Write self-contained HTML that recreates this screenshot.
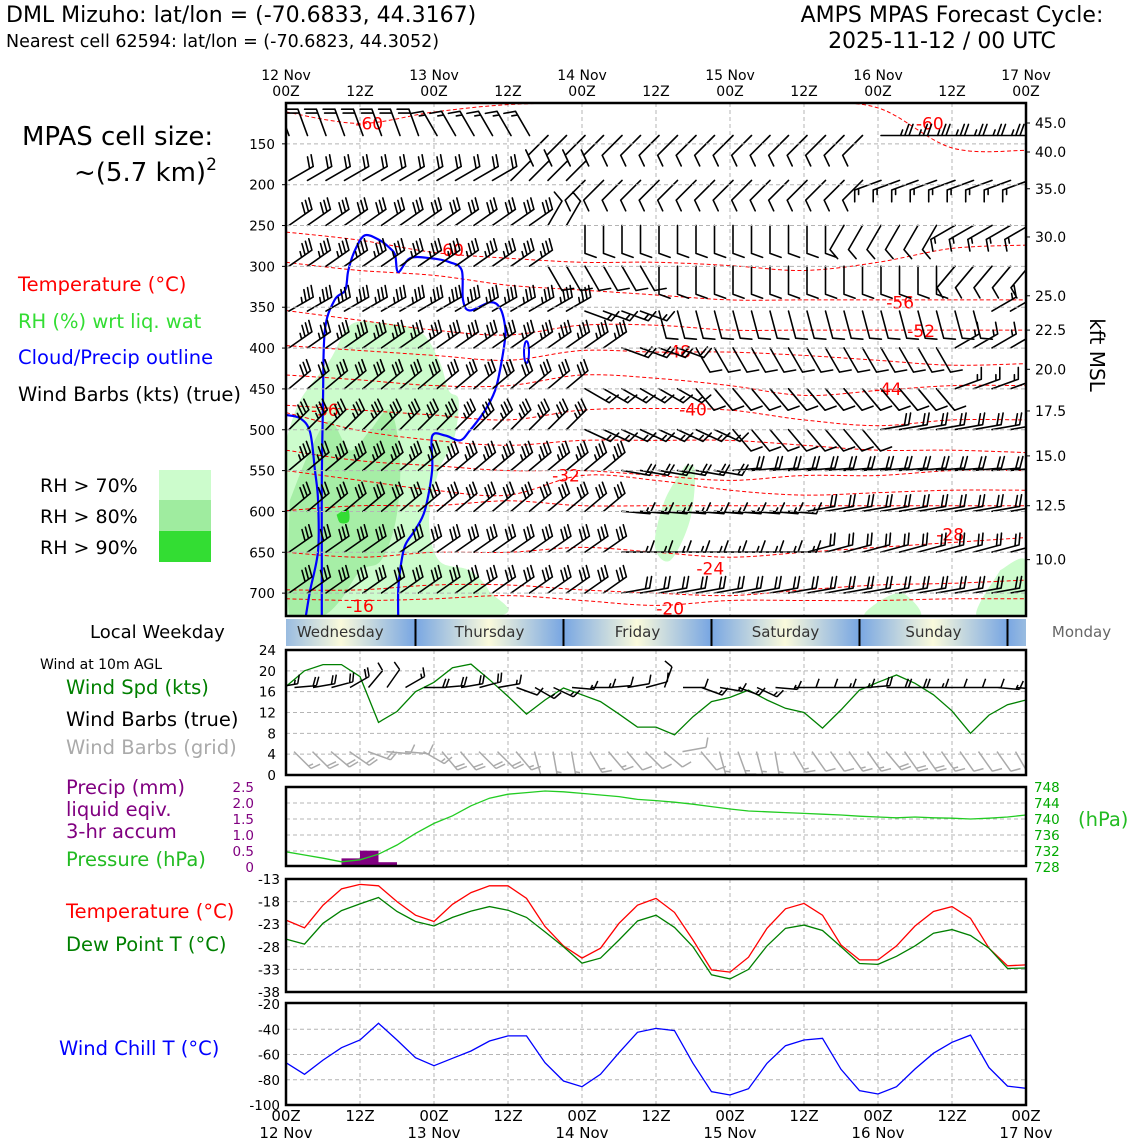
<!DOCTYPE html>
<html><head><meta charset="utf-8"><style>
html,body{margin:0;padding:0;background:#fff;}
svg{display:block;font-family:"DejaVu Sans","Liberation Sans",sans-serif;}
</style></head><body>
<svg id="chart" width="1140" height="1140" viewBox="0 0 1140 1140" xmlns="http://www.w3.org/2000/svg">
<defs>
<linearGradient id="dayGrad" gradientUnits="userSpaceOnUse" x1="267" y1="0" x2="415" y2="0" spreadMethod="repeat">
<stop offset="0" stop-color="#78a6e2"/><stop offset="0.5" stop-color="#fafadc"/><stop offset="1" stop-color="#78a6e2"/>
</linearGradient>
<clipPath id="mainClip"><rect x="286" y="103" width="740" height="513"/></clipPath>
<clipPath id="windClip"><rect x="286" y="650" width="740" height="125"/></clipPath>
</defs>
<text x="6" y="22" font-size="22">DML Mizuho: lat/lon = (-70.6833, 44.3167)</text>
<text x="6" y="47" font-size="17.5">Nearest cell 62594: lat/lon = (-70.6823, 44.3052)</text>
<text x="952" y="22" font-size="22" text-anchor="middle">AMPS MPAS Forecast Cycle:</text>
<text x="942" y="48" font-size="22" text-anchor="middle">2025-11-12 / 00 UTC</text>
<text x="22" y="145" font-size="26">MPAS cell size:</text>
<text x="74" y="181" font-size="26">~(5.7 km)<tspan font-size="17" dy="-11">2</tspan></text>
<text x="18" y="291" font-size="19.5" fill="#ff0000">Temperature (°C)</text>
<text x="18" y="328" font-size="19.5" fill="#33dd33">RH (%) wrt liq. wat</text>
<text x="18" y="364" font-size="19.5" fill="#0000ff">Cloud/Precip outline</text>
<text x="18" y="401" font-size="19.5">Wind Barbs (kts) (true)</text>
<text x="40" y="492" font-size="19">RH &gt; 70%</text>
<text x="40" y="523" font-size="19">RH &gt; 80%</text>
<text x="40" y="554" font-size="19">RH &gt; 90%</text>
<rect x="159" y="470" width="52" height="30" fill="#ccfccc"/>
<rect x="159" y="500" width="52" height="31" fill="#9fec9f"/>
<rect x="159" y="531" width="52" height="31" fill="#33dd33"/>
<text x="90" y="638" font-size="18">Local Weekday</text>
<text x="40" y="669" font-size="14">Wind at 10m AGL</text>
<text x="66" y="694" font-size="19.5" fill="#008000">Wind Spd (kts)</text>
<text x="66" y="726" font-size="19.5">Wind Barbs (true)</text>
<text x="66" y="754" font-size="19.5" fill="#aaaaaa">Wind Barbs (grid)</text>
<text x="66" y="794" font-size="19.5" fill="#800080">Precip (mm)</text>
<text x="66" y="816" font-size="19.5" fill="#800080">liquid eqiv.</text>
<text x="66" y="838" font-size="19.5" fill="#800080">3-hr accum</text>
<text x="66" y="866" font-size="19.5" fill="#22bb22">Pressure (hPa)</text>
<text x="66" y="918" font-size="19.5" fill="#ff0000">Temperature (°C)</text>
<text x="66" y="951" font-size="19.5" fill="#008000">Dew Point T (°C)</text>
<text x="59" y="1055" font-size="19.5" fill="#0000ff">Wind Chill T (°C)</text>
<text x="1078" y="826" font-size="19.5" fill="#22bb22">(hPa)</text>
<text x="0" y="0" font-size="20" transform="translate(1090,355) rotate(90)" text-anchor="middle">kft MSL</text>
<g id="layer"></g>
</svg>
<script>
// ---------- data ----------
const hours3 = [0,3,6,9,12,15,18,21,24,27,30,33,36,39,42,45,48,51,54,57,60,63,66,69,72,75,78,81,84,87,90,93,96,99,102,105,108,111,114,117,120];
const tempC = [-22.1,-23.8,-18.8,-15.2,-14.2,-14.5,-18,-21,-22.4,-18.6,-16,-14.5,-14.5,-17.3,-23.5,-27.8,-30.5,-28.3,-22.8,-18.8,-17.3,-20.4,-26.5,-33.1,-33.6,-30.3,-23.9,-19.6,-18.4,-21,-27.6,-30.9,-30.9,-27.8,-23.4,-20.2,-19.1,-21.7,-28.3,-32.2,-32.0];
const dewC = [-26.3,-27.4,-22.8,-20.0,-18.5,-17.1,-20.2,-22.4,-23.4,-21.5,-20.1,-19.1,-19.9,-21.5,-24.7,-28.0,-31.6,-30.5,-26.5,-22.3,-21.0,-23.7,-28.0,-34.2,-35.1,-33.0,-27.8,-23.9,-23.2,-24.4,-28.0,-31.7,-31.9,-30.1,-27.8,-25.0,-24.2,-25.5,-28.3,-32.8,-32.7];
const windChill = [-66.5,-75.7,-64.4,-54.6,-48.5,-35.3,-48.5,-62.5,-68.9,-63.0,-57.2,-49.3,-45.3,-45.3,-66.5,-81,-85.5,-75.7,-58.6,-42.4,-39.3,-41.1,-67,-89.5,-92.1,-87.1,-67,-53,-48.5,-47.2,-71.7,-88.7,-91.3,-85.5,-71.5,-59,-50.3,-44.6,-70.4,-85,-86.8];
const windSpd = [17.0,20,21.2,21.2,18.9,10.1,12.2,16,17.8,20.6,21.3,18.3,15.1,11.7,14.4,16.7,15.4,14.1,11.7,9.2,9.2,7.7,11.2,14.1,14.9,16.3,14.4,12.8,12.0,9.0,12.5,16.3,17.8,19.2,17.6,15.4,12.3,8.0,11.5,13.5,14.4];
const windDirTrue = [80,85,80,75,60,40,35,60,90,85,80,75,80,110,120,115,95,90,85,80,75,20,90,110,100,110,115,95,90,90,90,90,85,90,90,90,90,90,90,95,95];
const windDirGrid = [135,135,130,125,110,95,95,120,140,140,135,135,140,165,170,170,150,140,140,135,130,80,140,165,160,165,170,150,145,145,145,145,140,145,145,145,145,145,145,150,150];
const pressureHPa = [731.8,731,730.2,729.3,729.8,731.2,733.5,736.4,738.9,740.8,743.3,745.2,746.2,746.6,747,746.8,746.4,746,745.6,744.9,744.6,744.2,743.7,743.1,742.5,742,741.8,741.6,741.4,741.2,741,740.7,740.5,740.3,740.5,740.3,740.2,740,740.2,740.5,741];
const precipStart = [9,12,15];
const precipMm = [0.27,0.51,0.15];

const rowPressures = [130,185,240,290,345,390,440,490,540,590,640,690];
const rowDir0 = [340,340,340,340,330,330,330,225,225,225,225,225,225,225,225,225,90,90,90,90,90];
const rowSpd0 = [20,20,20,20,15,15,15,10,10,10,10,10,10,10,10,10,25,25,25,25,25];
const rowDir1 = [60,60,60,60,60,60,45,45,225,225,225,225,225,225,225,225,250,250,250,250,250];
const rowSpd1 = [20,20,20,20,20,20,10,10,10,10,10,10,10,10,10,10,15,15,15,15,15];
const rowDir2 = [55,55,55,55,55,55,55,30,180,180,180,180,180,180,180,210,210,210,240,240,240];
const rowSpd2 = [30,30,30,30,30,30,30,10,10,10,10,10,10,10,10,10,10,10,15,15,15];
const rowDir3 = [55,55,55,55,55,55,55,150,150,150,180,180,180,180,180,180,180,180,220,220,220];
const rowSpd3 = [35,35,35,35,35,35,35,10,10,10,10,10,10,10,10,10,10,10,10,10,10];
const rowDir4 = [60,60,60,60,60,60,60,60,110,110,165,165,165,165,165,165,165,165,165,60,60];
const rowSpd4 = [35,35,35,35,35,35,35,35,15,15,10,10,10,10,10,10,10,10,10,15,15];
const rowDir5 = [55,55,55,55,55,55,55,55,55,110,110,150,150,150,150,150,150,150,60,60,60];
const rowSpd5 = [35,35,35,35,35,35,35,35,35,20,20,10,10,10,10,10,10,10,15,15,15];
const rowDir6 = [50,50,50,50,50,50,50,50,120,120,120,140,140,140,140,140,140,140,70,70,70];
const rowSpd6 = [30,30,30,30,30,30,30,30,15,15,15,10,10,10,10,10,10,10,15,15,15];
const rowDir7 = [45,45,45,45,45,45,45,45,115,115,115,115,140,140,140,140,80,80,80,80,80];
const rowSpd7 = [35,35,35,35,35,35,35,35,15,15,15,15,10,10,10,10,20,20,20,20,20];
const rowDir8 = [50,50,50,50,50,50,50,50,50,100,100,100,85,85,85,85,85,85,85,85,85];
const rowSpd8 = [35,35,35,35,35,35,35,35,35,20,20,20,20,20,20,20,20,20,20,20,20];
const rowDir9 = [50,50,50,50,50,50,50,50,50,95,95,95,95,95,80,80,80,80,80,80,80];
const rowSpd9 = [30,30,30,30,30,30,30,30,30,15,15,15,15,15,20,20,20,20,20,20,20];
const rowDir10 = [55,55,55,55,55,55,55,55,55,90,90,90,90,90,75,75,75,75,75,75,75];
const rowSpd10 = [30,30,30,30,30,30,30,30,30,15,15,15,15,15,20,20,20,20,20,20,20];
const rowDir11 = [55,55,55,55,55,55,55,55,55,80,80,80,80,80,80,80,80,80,80,80,80];
const rowSpd11 = [30,30,30,30,30,30,30,30,30,20,20,20,20,20,20,20,20,20,20,20,20];

const contourHours = [0,12,24,36,48,60,72,84,96,108,120];
const contour0 = [111,125,111,102,100,100,100,100,106,155,158];
const contour1 = [258,268,283,290,295,295,299,305,295,278,274];
const contour2 = [295,305,311,323,329,335,341,341,341,341,341];
const contour3 = [354,366,378,384,372,372,378,378,378,378,378];
const contour4 = [397,403,409,415,403,405,405,409,415,421,419];
const contour5 = [433,439,446,446,433,437,446,458,452,446,446];
const contour6 = [470,476,482,488,476,474,476,488,495,488,488];
const contour7 = [479,501,513,519,513,513,513,519,525,525,528];
const contour8 = [525,538,544,550,550,556,562,556,556,550,550];
const contour9 = [550,562,574,580,556,562,574,580,577,574,574];
const contour10 = [599,593,593,587,593,593,593,593,593,593,593];
const contour11 = [650,656,650,650,644,650,656,650,644,638,632];
const contour12 = [696,696,690,690,696,700,703,696,690,688,684];
const contour13 = [707,709,707,703,709,715,709,709,709,707,707];
const contourLabelText = ["-60","-60","-60","-56","-52","-48","-44","-40","-36","-32","-28","-24","-20","-16"];
const contourLabelHour = [13.5,26.6,104.4,99.6,103,63.4,97.6,66,6.3,45.4,107.7,68.8,62.3,12];
const contourLabelP = [125,280,125,344,379,404,450,475,476,556,628,670,719,716];

const rh70Poly = [[0,513],[2.3,464],[7.1,415],[10.4,372],[15.2,369],[21.6,379],[24.8,415],[26.4,452],[28,464],[27.2,513],[24.8,550],[23.2,611],[24.8,660],[29.7,672],[32.9,697],[33.7,729],[0,729]];
const rh70PolyB = [[64.7,544],[66.3,550],[65.5,611],[62.3,660],[59.8,642],[61.4,587]];
const rh70PolyC = [[96.3,709],[100,700],[102.8,729],[94,729]];
const rh70PolyD = [[115.8,672],[120,660],[120,729],[112,729]];
const rh80Poly = [[0.6,587],[3.9,525],[7.1,489],[10.4,525],[13.6,501],[16.9,476],[18.5,538],[17.8,611],[15.4,660],[12.1,672],[8.8,709],[5.6,729],[0.6,729]];
const rh90Poly = [[8.2,604],[10,597],[10.2,612],[8.8,614]];
const cloudPath1 = [[0,482],[2.3,486],[3.9,503],[4.7,550],[5.2,587],[5.2,648],[3.9,697],[3.2,729]];
const cloudPath2 = [[5.8,729],[5.8,660],[5.8,562],[6,464],[6.3,378],[7.9,341],[9.6,329],[10.1,305],[11.2,280],[12.8,262],[15.2,268],[16.9,278],[17.7,286],[18.2,307],[20.1,290],[23.4,290],[26.6,295],[28.5,305],[28.7,341],[29.8,354],[33.1,344],[34.7,351],[35.5,372],[35.5,390],[34.7,427],[33.9,452],[32.3,476],[29.8,501],[28.2,513],[25.8,507],[23.7,508],[23.7,550],[22.5,599],[20.9,623],[19.3,642],[18.5,672],[18.2,697],[18.2,729]];

const pTicks = [150,200,250,300,350,400,450,500,550,600,650,700];
const kftLabels = ["45.0","40.0","35.0","30.0","25.0","22.5","20.0","17.5","15.0","12.5","10.0"];
const kftPressures = [124.5,160,205,264,336,378,426,477,532,593,659];
const windTicks = [0,4,8,12,16,20,24];
const precipTicks = [0,0.5,1.0,1.5,2.0,2.5];
const presTicks = [728,732,736,740,744,748];
const tempTicks = [-13,-18,-23,-28,-33,-38];
const chillTicks = [-20,-40,-60,-80,-100];
const dayHours = [0,24,48,72,96,120];
const dayLabels = ["12 Nov","13 Nov","14 Nov","15 Nov","16 Nov","17 Nov"];
const weekdayNames = ["Wednesday","Thursday","Friday","Saturday","Sunday","Monday"];
const weekdayBoundaryHours = [21,45,69,93,117];

// ---------- scales ----------
const X = h => 286 + h * 740 / 120;
const Yp = p => 103 + (p - 100) * 513 / 628;
const Yw = v => 775 - v * 125 / 24;
const Ypr = P => 867 - (P - 728) * 4;
const Ypc = mm => 867 - mm * 32;
const Yt = T => 879 + (-13 - T) * 113 / 25;
const Yc = T => 1004 + (-20 - T) * 101 / 80;

const NS = "http://www.w3.org/2000/svg";
const layer = document.getElementById("layer");
function mk(tag, attrs, parent) {
  const e = document.createElementNS(NS, tag);
  for (const k in attrs) e.setAttribute(k, attrs[k]);
  (parent || layer).appendChild(e);
  return e;
}
function polyD(pts, fx, fy, close) {
  return pts.map((p, i) => (i ? "L" : "M") + fx(p[0]).toFixed(1) + "," + fy(p[1]).toFixed(1)).join("") + (close ? "Z" : "");
}
function smoothD(pts, fx, fy) {
  const P = pts.map(p => [fx(p[0]), fy(p[1])]);
  let d = "M" + P[0][0].toFixed(1) + "," + P[0][1].toFixed(1);
  for (let i = 0; i < P.length - 1; i++) {
    const p0 = P[Math.max(0, i - 1)], p1 = P[i], p2 = P[i + 1], p3 = P[Math.min(P.length - 1, i + 2)];
    const c1x = p1[0] + (p2[0] - p0[0]) / 6, c1y = p1[1] + (p2[1] - p0[1]) / 6;
    const c2x = p2[0] - (p3[0] - p1[0]) / 6, c2y = p2[1] - (p3[1] - p1[1]) / 6;
    d += "C" + c1x.toFixed(1) + "," + c1y.toFixed(1) + " " + c2x.toFixed(1) + "," + c2y.toFixed(1) + " " + p2[0].toFixed(1) + "," + p2[1].toFixed(1);
  }
  return d;
}
function barbD(x, y, dir, spd, L) {
  const r = dir * Math.PI / 180;
  const sx = Math.sin(r), sy = -Math.cos(r);
  let fx = sy * 0.94 + sx * 0.34, fy = -sx * 0.94 + sy * 0.34;
  const tx = x + sx * L, ty = y + sy * L;
  let d = "M" + x.toFixed(1) + "," + y.toFixed(1) + "L" + tx.toFixed(1) + "," + ty.toFixed(1);
  let s = Math.round(spd / 5) * 5;
  let pos = 0; const FL = L * 0.42, step = L * 0.15;
  while (s >= 50) {
    const ax = tx - sx * pos, ay = ty - sy * pos;
    const bx = tx - sx * (pos + step * 1.6), by = ty - sy * (pos + step * 1.6);
    d += "M" + ax.toFixed(1) + "," + ay.toFixed(1) + "L" + (ax + fx * FL).toFixed(1) + "," + (ay + fy * FL).toFixed(1) + "L" + bx.toFixed(1) + "," + by.toFixed(1);
    pos += step * 2; s -= 50;
  }
  while (s >= 10) {
    const ax = tx - sx * pos, ay = ty - sy * pos;
    d += "M" + ax.toFixed(1) + "," + ay.toFixed(1) + "l" + (fx * FL).toFixed(1) + "," + (fy * FL).toFixed(1);
    pos += step; s -= 10;
  }
  if (s >= 5) {
    if (pos === 0) pos = step;
    const ax = tx - sx * pos, ay = ty - sy * pos;
    d += "M" + ax.toFixed(1) + "," + ay.toFixed(1) + "l" + (fx * FL / 2).toFixed(1) + "," + (fy * FL / 2).toFixed(1);
  }
  return d;
}

// ---------- panel frames & grids ----------
const panels = [
  {name:"upper-air-panel", y0:103, y1:616},
  {name:"wind-panel", y0:650, y1:775},
  {name:"precip-pressure-panel", y0:787, y1:866},
  {name:"temperature-panel", y0:879, y1:992},
  {name:"wind-chill-panel", y0:1003, y1:1105}
];
function vgrid(y0, y1) {
  for (let h = 12; h < 120; h += 12) {
    const l = mk("line", {x1:X(h), x2:X(h), y1:y0, y2:y1, stroke:"#b4b4b4", "stroke-width":1, "stroke-dasharray":"4,3"});
    
    
  }
}
function hgrid(y) {
  const l = mk("line", {x1:286, x2:1026, y1:y, y2:y, stroke:"#b4b4b4", "stroke-width":1, "stroke-dasharray":"4,3"});
  
  
}
panels.forEach(p => vgrid(p.y0, p.y1));

// ---------- main panel ----------
const gMain = mk("g", {"clip-path":"url(#mainClip)"});


pTicks.forEach(p => hgrid(Yp(p)));
[[rh70Poly,"#ccfccc"],[rh70PolyB,"#ccfccc"],[rh70PolyC,"#ccfccc"],[rh70PolyD,"#ccfccc"],[rh80Poly,"#a6eea6"],[rh90Poly,"#33dd33"]].forEach(([pts,c]) => {
  const e = mk("path", {d:smoothD(pts.concat([pts[0]]), X, Yp), fill:c, stroke:"none"}, gMain);
  
  
});
[contour0,contour1,contour2,contour3,contour4,contour5,contour6,contour7,contour8,contour9,contour10,contour11,contour12,contour13].forEach(c => {
  const e = mk("path", {d:smoothD(contourHours.map((h,i)=>[h,c[i]]), X, Yp), fill:"none", stroke:"#ff0000", "stroke-width":1, "stroke-dasharray":"4,2.5"}, gMain);
  
  
});
contourLabelText.forEach((t, i) => {
  const e = mk("text", {x:X(contourLabelHour[i]), y:Yp(contourLabelP[i]) + 6, "font-size":17, fill:"#ff0000", "text-anchor":"middle"}, gMain);
  e.textContent = t;
  
  
});
[cloudPath1, cloudPath2].forEach(c => {
  const e = mk("path", {d:smoothD(c, X, Yp), fill:"none", stroke:"#0000ff", "stroke-width":2.2}, gMain);
  
  
});
const cell = mk("ellipse", {cx:X(39), cy:Yp(405), rx:2.5, ry:11, fill:"none", stroke:"#0000ff", "stroke-width":2}, gMain);


const rowDirs = [rowDir0,rowDir1,rowDir2,rowDir3,rowDir4,rowDir5,rowDir6,rowDir7,rowDir8,rowDir9,rowDir10,rowDir11];
const rowSpds = [rowSpd0,rowSpd1,rowSpd2,rowSpd3,rowSpd4,rowSpd5,rowSpd6,rowSpd7,rowSpd8,rowSpd9,rowSpd10,rowSpd11];
let dAll = "";
rowPressures.forEach((p, r) => {
  hours3.forEach((h, i) => {
    const j = Math.floor(i / 2);
    dAll += barbD(X(h) + 3, Yp(p) + 8, rowDirs[r][j], rowSpds[r][j], 28);
  });
});
const barbs = mk("path", {d:dAll, fill:"none", stroke:"#000", "stroke-width":1.6, "stroke-linecap":"round"}, gMain);



// ---------- weekday bar ----------
const wb = mk("rect", {x:286, y:619, width:740, height:27, fill:"url(#dayGrad)"});


weekdayBoundaryHours.forEach(h => {
  const l = mk("line", {x1:X(h), x2:X(h), y1:619, y2:646, stroke:"#000", "stroke-width":2});
  
  
});
weekdayNames.forEach((n, i) => {
  const h = i === 0 ? 8.8 : weekdayBoundaryHours[i - 1] + 12;
  const t = mk("text", {x:X(h), y:637, "font-size":15, fill:i === 5 ? "#666" : "#333", "text-anchor":"middle"});
  t.textContent = n;
  
  
});

// ---------- wind panel ----------
windTicks.forEach(v => { if (v > 0 && v < 24) hgrid(Yw(v)); });
const gWind = mk("g", {"clip-path":"url(#windClip)"});


const ws = mk("path", {d:polyD(hours3.map((h,i)=>[h,windSpd[i]]), X, Yw), fill:"none", stroke:"#008000", "stroke-width":1.3}, gWind);


let dT = "", dG = "";
hours3.forEach((h, i) => {
  dT += barbD(X(h) - 10, Yw(16.8), windDirTrue[i], windSpd[i], 22);
  dG += barbD(X(h) + 8, Yw(4.5), windDirGrid[i], windSpd[i], 24);
});
const bt = mk("path", {d:dT, fill:"none", stroke:"#000", "stroke-width":1.5}, gWind);


const bg = mk("path", {d:dG, fill:"none", stroke:"#aaaaaa", "stroke-width":1.5}, gWind);



// ---------- precip / pressure ----------
presTicks.forEach(v => { if (v > 728 && v < 748) hgrid(Ypr(v)); });
precipStart.forEach((h, i) => {
  const b = mk("rect", {x:X(h), y:Ypc(precipMm[i]), width:X(h+3)-X(h), height:Ypc(0)-Ypc(precipMm[i]), fill:"#800080"});
  
  
});
const pr = mk("path", {d:polyD(hours3.map((h,i)=>[h,pressureHPa[i]]), X, Ypr), fill:"none", stroke:"#22cc22", "stroke-width":1.3});



// ---------- temperature ----------
tempTicks.forEach(v => { if (v < -13 && v > -38) hgrid(Yt(v)); });
const tl = mk("path", {d:polyD(hours3.map((h,i)=>[h,tempC[i]]), X, Yt), fill:"none", stroke:"#ff0000", "stroke-width":1.3});


const dl = mk("path", {d:polyD(hours3.map((h,i)=>[h,dewC[i]]), X, Yt), fill:"none", stroke:"#008000", "stroke-width":1.3});



// ---------- wind chill ----------
chillTicks.forEach(v => { if (v < -20 && v > -100) hgrid(Yc(v)); });
const cl = mk("path", {d:polyD(hours3.map((h,i)=>[h,windChill[i]]), X, Yc), fill:"none", stroke:"#0000ff", "stroke-width":1.3});



// ---------- frames ----------
panels.forEach(p => {
  const r = mk("rect", {x:286, y:p.y0, width:740, height:p.y1 - p.y0, fill:"none", stroke:"#000", "stroke-width":2.5});
  
  
});

// ---------- tick labels ----------
function label(x, y, txt, anchor, size, color, name) {
  const t = mk("text", {x:x, y:y, "text-anchor":anchor, "font-size":size, fill:color || "#000"});
  t.textContent = txt;
  
  
  return t;
}
function tick(x1, x2, y) {
  const l = mk("line", {x1:x1, x2:x2, y1:y, y2:y, stroke:"#000", "stroke-width":1});
  
  
}
pTicks.forEach(p => { label(275, Yp(p) + 5, String(p), "end", 13.5, "#000", "pressure-tick-label"); tick(282, 286, Yp(p)); });
kftLabels.forEach((k, i) => { label(1035, Yp(kftPressures[i]) + 5, k, "start", 14, "#000", "kft-tick-label"); tick(1026, 1030, Yp(kftPressures[i])); });
windTicks.forEach(v => label(276, Yw(v) + 5, String(v), "end", 13.5, "#000", "wind-tick-label"));
precipTicks.forEach(v => label(254, Ypc(v) + 5, v === 0 ? "0" : v.toFixed(1), "end", 13.5, "#800080", "precip-tick-label"));
presTicks.forEach(v => label(1034, Ypr(v) + 5, String(v), "start", 13.5, "#00aa00", "pressure-hpa-tick-label"));
tempTicks.forEach(v => label(280, Yt(v) + 5, String(v), "end", 13.5, "#000", "temperature-tick-label"));
chillTicks.forEach(v => label(280, Yc(v) + 5, String(v), "end", 13.5, "#000", "wind-chill-tick-label"));
for (let h = 0; h <= 120; h += 12) {
  const z = (h % 24 === 0) ? "00Z" : "12Z";
  label(X(h), 96, z, "middle", 14, "#000", "top-time-label");
  label(X(h), 1121, z, "middle", 15, "#000", "bottom-time-label");
}
dayHours.forEach((h, i) => {
  label(X(h), 80, dayLabels[i], "middle", 14, "#000", "top-date-label");
  label(X(h), 1138, dayLabels[i], "middle", 15, "#000", "bottom-date-label");
});
</script>
</body></html>
